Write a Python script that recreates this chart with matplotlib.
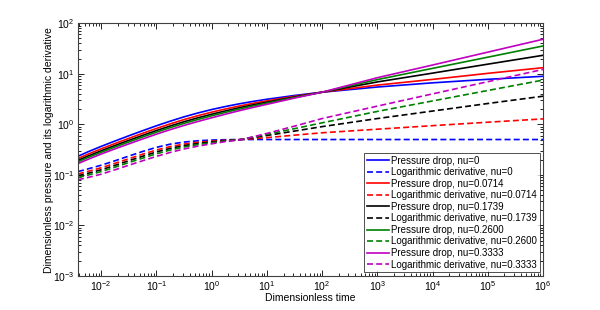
import matplotlib
matplotlib.use('Agg')
import matplotlib.pyplot as plt
from matplotlib.ticker import FixedLocator, NullFormatter

plt.rcParams['font.family'] = ['Liberation Sans', 'DejaVu Sans']
plt.rcParams['mathtext.fontset'] = 'custom'
plt.rcParams['mathtext.rm'] = 'Liberation Sans'

# dimensionless time samples
t = [0.0038, 0.0056, 0.01, 0.0178, 0.0316, 0.0562, 0.1, 0.178, 0.316, 0.562, 1,
     1.78, 3.16, 5.62, 10, 31.6, 100, 1e3, 1e4, 1e5, 1e6]

nu_labels = ['0', '0.0714', '0.1739', '0.2600', '0.3333']
colors = ['#0000ff', '#ff0000', '#000000', '#008000', '#bf00bf']

# pressure drop
p_nu0 = [0.233, 0.282, 0.366, 0.468, 0.593, 0.747, 0.935, 1.155, 1.405, 1.675, 1.96,
         2.25, 2.545, 2.84, 3.13, 3.72, 4.32, 5.47, 6.62, 7.77, 8.92]
p_nu1 = [0.210, 0.253, 0.327, 0.417, 0.527, 0.663, 0.827, 1.020, 1.241, 1.479, 1.739,
         2.009, 2.301, 2.601, 2.908, 3.579, 4.32, 5.97, 7.74, 10.2, 13.2]
p_nu2 = [0.193, 0.232, 0.299, 0.381, 0.481, 0.603, 0.752, 0.926, 1.124, 1.343, 1.582,
         1.841, 2.128, 2.428, 2.745, 3.471, 4.32, 6.9, 10.3, 15.5, 23.2]
p_nu3 = [0.181, 0.218, 0.280, 0.356, 0.448, 0.562, 0.699, 0.860, 1.044, 1.248, 1.474,
         1.724, 2.003, 2.303, 2.626, 3.393, 4.32, 7.67, 12.8, 21.3, 35.5]
p_nu4 = [0.167, 0.200, 0.258, 0.327, 0.410, 0.513, 0.638, 0.784, 0.950, 1.137, 1.346,
         1.586, 1.858, 2.156, 2.485, 3.300, 4.32, 8.36, 14.9, 26.8, 48.2]

# logarithmic derivative
d_nu0 = [0.116, 0.13, 0.155, 0.19, 0.235, 0.29, 0.35, 0.405, 0.445, 0.472, 0.488,
         0.496, 0.5, 0.5, 0.5, 0.5, 0.5, 0.5, 0.5, 0.5, 0.5]
d_nu1 = [0.104, 0.116, 0.138, 0.169, 0.208, 0.256, 0.310, 0.363, 0.406, 0.44, 0.465,
         0.483, 0.497, 0.52, 0.545, 0.61, 0.68, 0.80, 0.94, 1.10, 1.28]
d_nu2 = [0.096, 0.106, 0.126, 0.154, 0.190, 0.233, 0.284, 0.334, 0.379, 0.417, 0.447,
         0.474, 0.494, 0.545, 0.60, 0.735, 0.90, 1.30, 1.83, 2.58, 3.6]
d_nu3 = [0.089, 0.098, 0.116, 0.142, 0.175, 0.214, 0.261, 0.31, 0.356, 0.397, 0.431,
         0.467, 0.493, 0.56, 0.635, 0.82, 1.07, 1.80, 2.90, 4.67, 7.5]
d_nu4 = [0.080, 0.088, 0.103, 0.126, 0.155, 0.19, 0.232, 0.278, 0.325, 0.37, 0.411,
         0.455, 0.49, 0.565, 0.66, 0.92, 1.30, 2.29, 4.0, 6.97, 12.2]

pressures = [p_nu0, p_nu1, p_nu2, p_nu3, p_nu4]
derivs = [d_nu0, d_nu1, d_nu2, d_nu3, d_nu4]

x_decades = [1e-2, 1e-1, 1e0, 1e1, 1e2, 1e3, 1e4, 1e5, 1e6]
y_decades = [1e-3, 1e-2, 1e-1, 1e0, 1e1, 1e2]

fig = plt.figure(figsize=(6, 3.1), dpi=100)
ax = fig.add_axes([0.13, 0.11, 0.775, 0.815])

for p, d, c, nu in zip(pressures, derivs, colors, nu_labels):
    ax.loglog(t, p, '-', color=c, lw=1.2, label='Pressure drop, nu=' + nu)
    ax.loglog(t, d, '--', color=c, lw=1.2, dashes=(3.6, 1.9),
              label='Logarithmic derivative, nu=' + nu)

ax.set_xlim(0.0038, 1e6)
ax.set_ylim(1e-3, 1e2)
ax.set_xticks(x_decades)
ax.set_yticks(y_decades)
x_minor = [k * d for d in [1e-3] + x_decades[:-1] for k in range(2, 10) if 0.0038 <= k * d <= 1e6]
y_minor = [k * d for d in y_decades[:-1] for k in range(2, 10)]
ax.xaxis.set_minor_locator(FixedLocator(x_minor))
ax.yaxis.set_minor_locator(FixedLocator(y_minor))
ax.xaxis.set_minor_formatter(NullFormatter())
ax.yaxis.set_minor_formatter(NullFormatter())
ax.tick_params(which='both', direction='in', top=True, right=True, labelsize=7.5, width=0.6)
ax.tick_params(which='major', length=4, pad=2.5)
ax.tick_params(which='minor', length=2)
for s in ax.spines.values():
    s.set_linewidth(0.8)
    s.set_color('#404040')

ax.set_xlabel('Dimensionless time', fontsize=7.5, labelpad=0)
ax.set_ylabel('Dimensionless pressure and its logarithmic derivative', fontsize=7.5, labelpad=-1)

leg = ax.legend(loc='lower right', fontsize=7, frameon=True, fancybox=False, edgecolor='black',
                borderaxespad=0.35, labelspacing=0.16, handlelength=2.3, handletextpad=0.15,
                borderpad=0.3)
leg.get_frame().set_linewidth(0.6)

fig.savefig('out.png', dpi=100)
